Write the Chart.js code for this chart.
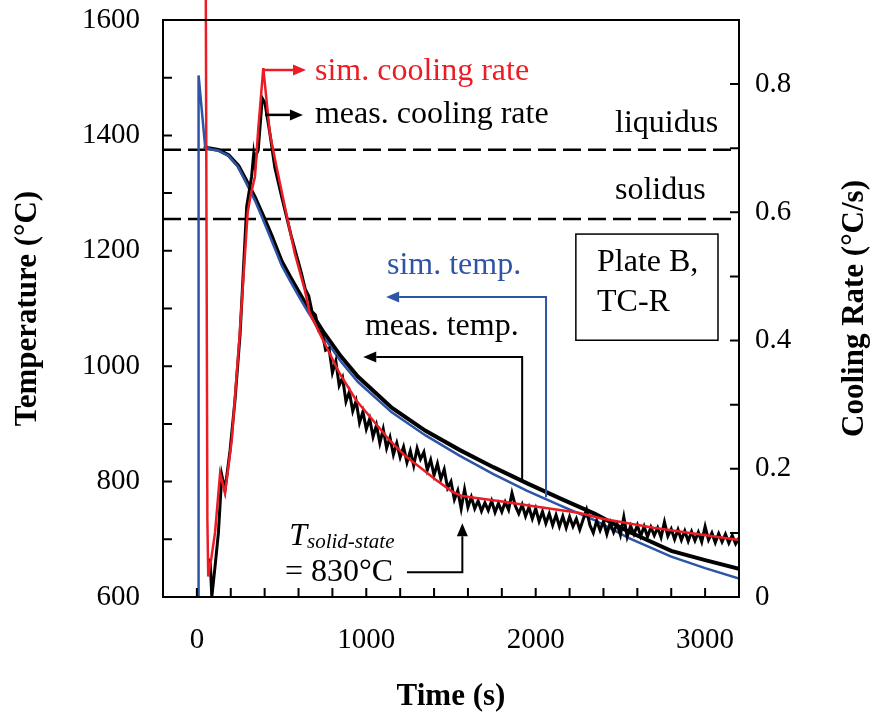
<!DOCTYPE html>
<html>
<head>
<meta charset="utf-8">
<script src="https://cdn.jsdelivr.net/npm/chart.js@4.4.1/dist/chart.umd.min.js"></script>
<style>
  body { margin: 0; background: #fff; }
  canvas { display: block; }
</style>
</head>
<body>
<canvas id="coolingChart" width="875" height="721"></canvas>
<script>
// ---- values ----
// simulated temperature (left axis, °C)
const simTempTime  = [9, 10, 49, 80, 125, 186, 245, 294, 343, 392, 441, 500, 550, 600, 650, 750, 850, 950, 1150, 1350, 1550, 1750, 1950, 2150, 2350, 2550, 2800, 3000, 3200];
const simTempValue = [600, 1504, 1380, 1376, 1374, 1365, 1345, 1316, 1287, 1253, 1218, 1175, 1148, 1122, 1097, 1050, 1008, 973, 920, 880, 845, 813, 784, 758, 733, 702, 670, 650, 632];

// measured temperature (left axis, °C)
const measTempTime  = [45, 60, 125, 186, 245, 294, 343, 392, 441, 500, 550, 650, 750, 850, 950, 1150, 1350, 1550, 1750, 1950, 2150, 2350, 2550, 2800, 3000, 3200];
const measTempValue = [1382, 1378, 1375, 1366, 1347, 1320, 1292, 1260, 1226, 1182, 1155, 1104, 1058, 1017, 982, 928, 888, 855, 825, 797, 770, 744, 713, 680, 664, 649];

// simulated cooling rate (right axis, °C/s)
const simRateTime  = [52, 62, 67, 85, 107, 137, 166, 206, 250, 300, 320, 343, 362, 392, 431, 470, 519, 578, 637, 666, 744, 842, 940, 1038, 1136, 1234, 1313, 1410, 1509, 1560, 1607, 1802, 1998, 2253, 2395, 2695, 3200];
const simRateValue = [1.0, 0.12, 0.032, 0.06, 0.10, 0.193, 0.162, 0.245, 0.40, 0.60, 0.63, 0.656, 0.729, 0.825, 0.723, 0.671, 0.609, 0.536, 0.479, 0.443, 0.401, 0.349, 0.307, 0.276, 0.245, 0.219, 0.203, 0.183, 0.164, 0.158, 0.156, 0.149, 0.141, 0.1315, 0.122, 0.108, 0.089];

// measured cooling rate (right axis, °C/s) - noisy thermocouple trace
const measRateTime = [
  78, 88, 107, 127, 147, 166, 196, 225, 255, 294, 323, 335, 343, 350, 362, 386, 402, 431, 460, 500, 558, 617,
  640, 660, 680, 700, 720, 740, 760, 780, 800, 820, 840, 860, 880, 900, 920, 940, 960, 980,
  1000, 1020, 1040, 1060, 1080, 1100, 1120, 1140, 1160, 1180, 1200, 1220, 1240, 1260, 1280, 1300, 1320, 1340, 1360, 1380,
  1400, 1420, 1440, 1460, 1480, 1500, 1520, 1540, 1560, 1580, 1600, 1620, 1640, 1660, 1680, 1700, 1720, 1740, 1760, 1780,
  1800, 1820, 1840, 1860, 1880, 1900, 1920, 1940, 1960, 1980, 2000, 2020, 2040, 2060, 2080, 2100, 2120, 2140, 2160, 2180,
  2200, 2220, 2240, 2260, 2280, 2300, 2320, 2340, 2360, 2380, 2400, 2420, 2440, 2460, 2480, 2500, 2520, 2540, 2560, 2580,
  2600, 2620, 2640, 2660, 2680, 2700, 2720, 2740, 2760, 2780, 2800, 2820, 2840, 2860, 2880, 2900, 2920, 2940, 2960, 2980,
  3000, 3020, 3040, 3060, 3080, 3100, 3120, 3140, 3160, 3180, 3200
];
const measRateValue = [
  0.06, 0.0, 0.047, 0.10, 0.19, 0.167, 0.229, 0.307, 0.41, 0.609, 0.656, 0.69, 0.672, 0.69, 0.697, 0.778, 0.77, 0.723, 0.67, 0.625, 0.562, 0.505,
  0.480, 0.470, 0.445, 0.440, 0.415, 0.412, 0.385, 0.388, 0.350, 0.368, 0.330, 0.342, 0.305, 0.320, 0.290, 0.306, 0.272, 0.289,
  0.262, 0.278, 0.250, 0.268, 0.240, 0.262, 0.232, 0.249, 0.222, 0.240, 0.218, 0.234, 0.210, 0.228, 0.205, 0.232, 0.215, 0.226, 0.198, 0.214,
  0.190, 0.208, 0.184, 0.199, 0.170, 0.180, 0.152, 0.166, 0.138, 0.168, 0.140, 0.156, 0.138, 0.150, 0.134, 0.147, 0.135, 0.150, 0.132, 0.146,
  0.133, 0.148, 0.136, 0.162, 0.142, 0.130, 0.144, 0.126, 0.140, 0.122, 0.138, 0.118, 0.133, 0.115, 0.130, 0.112, 0.128, 0.110, 0.126, 0.108,
  0.125, 0.110, 0.122, 0.105, 0.121, 0.136, 0.112, 0.100, 0.119, 0.104, 0.118, 0.098, 0.116, 0.101, 0.114, 0.097, 0.125, 0.094, 0.111, 0.098,
  0.112, 0.095, 0.110, 0.094, 0.109, 0.096, 0.108, 0.093, 0.117, 0.095, 0.106, 0.090, 0.105, 0.089, 0.103, 0.087, 0.102, 0.088, 0.101, 0.086,
  0.110, 0.089, 0.100, 0.085, 0.099, 0.086, 0.098, 0.084, 0.096, 0.083, 0.092
];

// reference lines (°C)
const liquidusTemp = 1375;
const solidusTemp = 1255;

// axis tick labels
const timeLabels = [0, 1000, 2000, 3000];
const tempLabels = [600, 800, 1000, 1200, 1400, 1600];
const rateLabels = [0, 0.2, 0.4, 0.6, 0.8];

const RED = '#ED1C24';
const BLUE = '#2E55A5';
const SERIF = '"Liberation Serif", "Times New Roman", serif';

function pairs(xs, ys) {
    return xs.map((x, i) => ({ x: x, y: ys[i] }));
}

// annotation texts and arrows, anchored in data coordinates
const notes = [
    { text: 'sim. cooling rate', axis: 'yR', x: 697, y: 0.819, color: RED },
    { text: 'meas. cooling rate', axis: 'yR', x: 697, y: 0.752, color: '#000' },
    { text: 'liquidus', axis: 'y', x: 2468, y: 1421, color: '#000' },
    { text: 'solidus', axis: 'y', x: 2468, y: 1305, color: '#000' },
    { text: 'Plate B,', axis: 'y', x: 2362, y: 1179, color: '#000' },
    { text: 'TC-R', axis: 'y', x: 2362, y: 1111, color: '#000' },
    { text: 'sim. temp.', axis: 'y', x: 1122, y: 1175, color: BLUE },
    { text: 'meas. temp.', axis: 'y', x: 992, y: 1068, color: '#000' },
    { text: '= 830°C', axis: 'y', x: 520, y: 643, color: '#000' }
];
const arrows = [
    { axis: 'yR', color: RED, width: 2.5, points: [[391, 0.822], [644, 0.822]] },
    { axis: 'yR', color: '#000', width: 2.5, points: [[402, 0.752], [626, 0.752]] },
    { axis: 'y', color: BLUE, width: 2, points: [[2061, 773], [2061, 1120], [1117, 1120]] },
    { axis: 'y', color: '#000', width: 2, points: [[1920, 799], [1920, 1016], [982, 1016]] },
    { axis: 'y', color: '#000', width: 2, points: [[1240, 643], [1567, 643], [1567, 728]] }
];
const plateBox = { x1: 2237, x2: 3076, y1: 1229, y2: 1045 };

const annotationsPlugin = {
    id: 'annotations',
    afterDraw(chart) {
        const ctx = chart.ctx;
        const a = chart.chartArea;
        const sx = chart.scales.x;
        const sy = chart.scales.y;
        const sr = chart.scales.yR;
        ctx.save();

        // frame
        ctx.strokeStyle = '#000';
        ctx.lineWidth = 2;
        ctx.strokeRect(a.left, a.top, a.right - a.left, a.bottom - a.top);

        // inward tick marks
        const tl = 9;
        ctx.beginPath();
        sx.ticks.forEach(t => {
            const px = sx.getPixelForValue(t.value);
            ctx.moveTo(px, a.bottom);
            ctx.lineTo(px, a.bottom - tl);
        });
        sy.ticks.forEach(t => {
            const py = sy.getPixelForValue(t.value);
            ctx.moveTo(a.left, py);
            ctx.lineTo(a.left + tl, py);
        });
        sr.ticks.forEach(t => {
            const py = sr.getPixelForValue(t.value);
            ctx.moveTo(a.right, py);
            ctx.lineTo(a.right - tl, py);
        });
        ctx.stroke();

        // text box
        ctx.lineWidth = 1.5;
        const bx1 = sx.getPixelForValue(plateBox.x1), bx2 = sx.getPixelForValue(plateBox.x2);
        const by1 = sy.getPixelForValue(plateBox.y1), by2 = sy.getPixelForValue(plateBox.y2);
        ctx.strokeRect(bx1, by1, bx2 - bx1, by2 - by1);

        // arrows
        arrows.forEach(ar => {
            const yScale = chart.scales[ar.axis];
            const pts = ar.points.map(p => [sx.getPixelForValue(p[0]), yScale.getPixelForValue(p[1])]);
            ctx.strokeStyle = ar.color;
            ctx.fillStyle = ar.color;
            ctx.lineWidth = ar.width;
            const n = pts.length;
            const [ex, ey] = pts[n - 1];
            const [px, py] = pts[n - 2];
            const ang = Math.atan2(ey - py, ex - px);
            const headLen = 13, headHalf = 5.5;
            ctx.beginPath();
            ctx.moveTo(pts[0][0], pts[0][1]);
            for (let i = 1; i < n - 1; i++) ctx.lineTo(pts[i][0], pts[i][1]);
            ctx.lineTo(ex - Math.cos(ang) * headLen, ey - Math.sin(ang) * headLen);
            ctx.stroke();
            ctx.beginPath();
            ctx.moveTo(ex, ey);
            ctx.lineTo(ex - Math.cos(ang) * headLen - Math.sin(ang) * headHalf, ey - Math.sin(ang) * headLen + Math.cos(ang) * headHalf);
            ctx.lineTo(ex - Math.cos(ang) * headLen + Math.sin(ang) * headHalf, ey - Math.sin(ang) * headLen - Math.cos(ang) * headHalf);
            ctx.closePath();
            ctx.fill();
        });

        // texts
        ctx.font = '32px ' + SERIF;
        ctx.textAlign = 'left';
        ctx.textBaseline = 'middle';
        notes.forEach(n => {
            ctx.fillStyle = n.color;
            ctx.fillText(n.text, sx.getPixelForValue(n.x), chart.scales[n.axis].getPixelForValue(n.y));
        });

        // T with subscript
        ctx.fillStyle = '#000';
        ctx.textBaseline = 'alphabetic';
        const tx = sx.getPixelForValue(545);
        const ty = sy.getPixelForValue(690);
        ctx.font = 'italic 32px ' + SERIF;
        ctx.fillText('T', tx, ty);
        const tw = ctx.measureText('T').width;
        ctx.font = 'italic 21px ' + SERIF;
        ctx.fillText('solid-state', tx + tw, ty + 3);

        // axis titles
        ctx.font = 'bold 31px ' + SERIF;
        ctx.textAlign = 'center';
        ctx.textBaseline = 'middle';
        const midY = (a.top + a.bottom) / 2;
        ctx.fillText('Time (s)', (a.left + a.right) / 2, 697);
        ctx.save();
        ctx.translate(28, midY);
        ctx.rotate(-Math.PI / 2);
        ctx.fillText('Temperature (°C)', 0, 0);
        ctx.restore();
        ctx.save();
        ctx.translate(855, midY);
        ctx.rotate(-Math.PI / 2);
        ctx.fillText('Cooling Rate (°C/s)', 0, 0);
        ctx.restore();

        ctx.restore();
    }
};

const tickFont = { family: SERIF, size: 29 };

function fixVertical(width) {
    return function (scale) {
        scale.width = width;
        scale.paddingTop = 0;
        scale.paddingBottom = 0;
    };
}

new Chart(document.getElementById('coolingChart').getContext('2d'), {
    type: 'line',
    data: {
        datasets: [
            {
                label: 'sim. cooling rate',
                data: pairs(simRateTime, simRateValue),
                yAxisID: 'yR',
                borderColor: RED,
                borderWidth: 2.5,
                clip: false,
                order: 0
            },
            {
                label: 'meas. cooling rate',
                data: pairs(measRateTime, measRateValue),
                yAxisID: 'yR',
                borderColor: '#000',
                borderWidth: 3,
                order: 1
            },
            {
                label: 'sim. temp.',
                data: pairs(simTempTime, simTempValue),
                yAxisID: 'y',
                borderColor: BLUE,
                borderWidth: 2.5,
                order: 2
            },
            {
                label: 'meas. temp.',
                data: pairs(measTempTime, measTempValue),
                yAxisID: 'y',
                borderColor: '#000',
                borderWidth: 4,
                order: 3
            },
            {
                label: 'liquidus',
                data: [{ x: -200, y: liquidusTemp }, { x: 3200, y: liquidusTemp }],
                yAxisID: 'y',
                borderColor: '#000',
                borderWidth: 2.5,
                borderDash: [18, 7],
                order: 4
            },
            {
                label: 'solidus',
                data: [{ x: -200, y: solidusTemp }, { x: 3200, y: solidusTemp }],
                yAxisID: 'y',
                borderColor: '#000',
                borderWidth: 2.5,
                borderDash: [18, 7],
                order: 4
            }
        ]
    },
    options: {
        responsive: false,
        animation: false,
        devicePixelRatio: 1,
        layout: { padding: { top: 20, left: 0, right: 0, bottom: 0 } },
        elements: {
            point: { radius: 0 },
            line: { tension: 0, fill: false }
        },
        plugins: {
            legend: { display: false },
            tooltip: { enabled: false }
        },
        scales: {
            x: {
                type: 'linear',
                position: 'bottom',
                min: -200,
                max: 3200,
                grid: { display: false, drawTicks: false },
                border: { display: false },
                afterFit(scale) {
                    scale.height = 124;
                    scale.paddingLeft = 0;
                    scale.paddingRight = 0;
                },
                ticks: {
                    stepSize: 200,
                    autoSkip: false,
                    maxRotation: 0,
                    padding: 26,
                    color: '#000',
                    font: tickFont,
                    callback: v => timeLabels.includes(v) ? String(v) : ''
                }
            },
            y: {
                position: 'left',
                min: 600,
                max: 1600,
                grid: { display: false, drawTicks: false },
                border: { display: false },
                afterFit: fixVertical(163),
                ticks: {
                    stepSize: 100,
                    autoSkip: false,
                    padding: 23,
                    color: '#000',
                    font: tickFont,
                    callback: v => tempLabels.includes(v) ? String(v) : ''
                }
            },
            yR: {
                position: 'right',
                min: 0,
                max: 0.9,
                grid: { display: false, drawTicks: false },
                border: { display: false },
                afterFit: fixVertical(136),
                ticks: {
                    stepSize: 0.1,
                    autoSkip: false,
                    padding: 16,
                    color: '#000',
                    font: tickFont,
                    callback: v => {
                        const r = Math.round(v * 10) / 10;
                        return rateLabels.includes(r) ? String(r) : '';
                    }
                }
            }
        }
    },
    plugins: [annotationsPlugin]
});
</script>
</body>
</html>
